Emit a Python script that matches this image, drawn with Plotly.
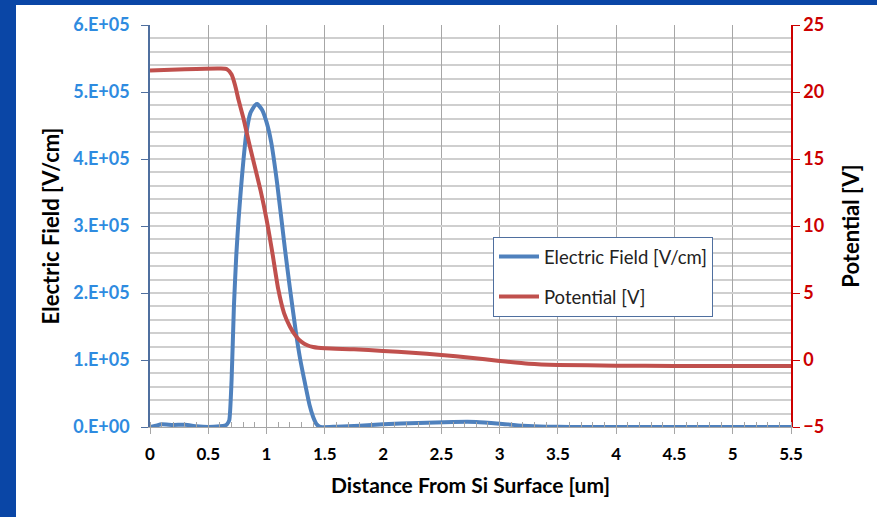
import plotly.graph_objects as go

# ---------------- data ----------------
field_x = [0, 0.05, 0.1, 0.2, 0.3, 0.4, 0.5, 0.6, 0.64, 0.66, 0.68, 0.70, 0.72, 0.74,
           0.76, 0.78, 0.80, 0.824, 0.86, 0.9, 0.92, 0.96, 1.0, 1.04, 1.09, 1.159, 1.2,
           1.253, 1.29, 1.33, 1.37, 1.40, 1.43, 1.46, 1.6, 1.8, 2.0, 2.3, 2.6, 2.8,
           3.0, 3.2, 3.4, 3.6, 4.0, 4.5, 5.0, 5.5]
field_v = [0, 2e3, 4e3, 3e3, 3.5e3, 1e3, 0, 1e3, 2e3, 4e3, 1e4, 7e4, 1.8e5, 2.55e5,
           3.1e5, 3.55e5, 3.95e5, 4.35e5, 4.68e5, 4.8e5, 4.82e5, 4.74e5, 4.55e5,
           4.25e5, 3.65e5, 2.64e5, 2.08e5, 1.4e5, 1.0e5, 6.5e4, 3.2e4, 1.5e4, 4e3, 0,
           500, 2e3, 4e3, 6e3, 7.5e3, 7.5e3, 5e3, 2e3, 500, 0, 0, 0, 0, 0]

pot_x = [0, 0.3, 0.6, 0.66, 0.7, 0.73, 0.76, 0.8, 0.85, 0.9, 0.95, 1.0, 1.05, 1.1,
         1.15, 1.2, 1.25, 1.3, 1.35, 1.4, 1.5, 1.75, 2.0, 2.25, 2.5, 2.75, 3.0, 3.25,
         3.5, 4.0, 4.5, 5.0, 5.5]
pot_v = [21.6, 21.7, 21.75, 21.7, 21.3, 20.5, 19.4, 18.1, 16.2, 14.4, 12.6, 10.5, 8.0,
         5.3, 3.5, 2.5, 1.8, 1.35, 1.1, 0.97, 0.87, 0.8, 0.68, 0.55, 0.37, 0.17, -0.07,
         -0.28, -0.37, -0.42, -0.44, -0.45, -0.45]

left_tickvals = [0, 1e5, 2e5, 3e5, 4e5, 5e5, 6e5]
left_ticktext = ["0.E+00", "1.E+05", "2.E+05", "3.E+05", "4.E+05", "5.E+05", "6.E+05"]
right_tickvals = [-5, 0, 5, 10, 15, 20, 25]
x_tickvals = [0, 0.5, 1, 1.5, 2, 2.5, 3, 3.5, 4, 4.5, 5, 5.5]
x_ticktext = ["0", "0.5", "1", "1.5", "2", "2.5", "3", "3.5", "4", "4.5", "5", "5.5"]

FONT = "Lato"
BLUE = "#4F81BD"
RED = "#C0504D"
SLIDE = "#0A46A6"

fig = go.Figure()
fig.add_trace(go.Scatter(x=field_x, y=field_v, mode="lines", name="Electric Field [V/cm]",
                         line=dict(color=BLUE, width=4, shape="spline", smoothing=0.5),
                         legendgroup="a", yaxis="y"))
fig.add_trace(go.Scatter(x=pot_x, y=pot_v, mode="lines", name="Potential [V]",
                         line=dict(color=RED, width=4, shape="spline", smoothing=0.6),
                         legendgroup="b", yaxis="y2"))

W, H = 877, 517
L, R, T, B = 150, 86, 25, 90
pw, ph = W - L - R, H - T - B

def px2x(p):
    return (p - L) / pw

def py2y(p):
    return (H - B - p) / ph

# white slide area over blue slide background
fig.add_shape(type="rect", xref="paper", yref="paper",
              x0=px2x(16), x1=px2x(W + 10), y0=py2y(H + 10), y1=py2y(5),
              fillcolor="white", line=dict(width=0), layer="below")

fig.update_layout(
    width=W, height=H,
    margin=dict(l=L, r=R, t=T, b=B),
    paper_bgcolor=SLIDE, plot_bgcolor="white",
    font=dict(family=FONT, size=14, color="black"),
    showlegend=True,
    legend=dict(x=px2x(493), y=py2y(237), xanchor="left", yanchor="top",
                bgcolor="white", bordercolor="#4F6F9F", borderwidth=1,
                font=dict(family=FONT, size=18.5, color="#222222"),
                tracegroupgap=13, itemwidth=40),
    xaxis=dict(range=[0, 5.5], tickvals=x_tickvals, ticktext=x_ticktext,
               showgrid=True, gridcolor="#A6A6A6", gridwidth=1,
               ticks="outside", ticklen=6, tickcolor="#A6A6A6",
               ticklabelstandoff=6,
               showline=True, linecolor="#A6A6A6", linewidth=1,
               tickfont=dict(family=FONT, size=17, color="black", weight="bold"),
               minor=dict(dtick=0.1, ticks="inside", ticklen=5, tickcolor="#A6A6A6",
                          showgrid=False),
               title=dict(text="Distance From Si Surface [um]",
                          font=dict(family=FONT, size=21, color="black", weight="bold"),
                          standoff=14),
               zeroline=False),
    yaxis=dict(range=[0, 6e5], tickvals=left_tickvals, ticktext=left_ticktext,
               showgrid=True, gridcolor="#CFCFCF", gridwidth=1.5,
               ticks="outside", ticklen=7, tickcolor="#4F6F9F",
               ticklabelstandoff=8,
               showline=True, linecolor="#4F6F9F", linewidth=1.5,
               tickfont=dict(family=FONT, size=18, color="#2E8BE0", weight="bold"),
               minor=dict(dtick=2e4, showgrid=True, gridcolor="#CFCFCF", gridwidth=1.5),
               title=dict(text="Electric Field [V/cm]",
                          font=dict(family=FONT, size=22, color="black", weight="bold"),
                          standoff=8),
               zeroline=False),
    yaxis2=dict(range=[-5, 25], tickvals=right_tickvals, overlaying="y", side="right",
                showgrid=False, ticks="outside", ticklen=7, tickcolor="#CC0000",
                showline=True, linecolor="#CC0000", linewidth=1.5,
                tickfont=dict(family=FONT, size=18, color="#CC0000", weight="bold"),
                title=dict(text="Potential [V]",
                           font=dict(family=FONT, size=22, color="black", weight="bold"),
                           standoff=20),
                zeroline=False),
)

fig.write_html("out.html")
